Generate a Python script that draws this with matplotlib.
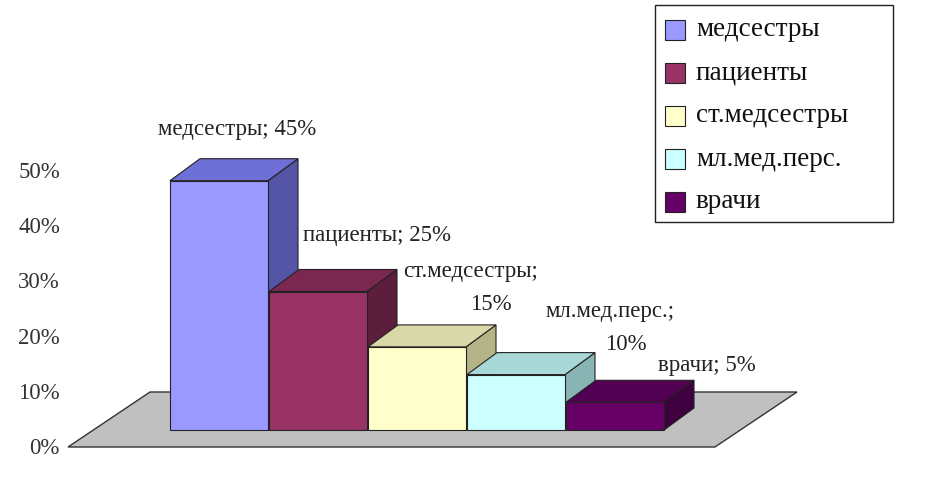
import matplotlib
matplotlib.use("Agg")
import matplotlib.pyplot as plt
from matplotlib.patches import Polygon

categories = ["медсестры", "пациенты", "ст.медсестры", "мл.мед.перс.", "врачи"]
values = [45, 25, 15, 10, 5]
ticks = [0, 10, 20, 30, 40, 50]
point_labels = ["медсестры; 45%", "пациенты; 25%", "ст.медсестры;\n15%", "мл.мед.перс.;\n10%", "врачи; 5%"]
front = ["#9999FF", "#993366", "#FFFFCC", "#CCFFFF", "#660066"]
top = ["#6f6fd8", "#7a2850", "#d8d8a8", "#a8d8d8", "#520052"]
side = ["#5555a8", "#5c1e3c", "#b4b488", "#88b4b4", "#3e003e"]

plt.rcParams['font.family'] = ['Liberation Serif', 'DejaVu Serif']
W, H = 938, 492
fig = plt.figure(figsize=(W/100, H/100), dpi=100)
ax = fig.add_axes([0, 0, 1, 1])
S = 5.54  # px per percent
Y0 = 449  # pixel of 0%
ax.set_xlim(0, W)
ax.set_ylim((Y0 - H)/S, Y0/S)
ax.axis("off")
def py(p): return (Y0 - p)/S

# floor
ax.add_patch(Polygon([(68, py(447)), (150, py(392)), (797, py(392)), (715, py(447))],
                     closed=True, fc="#c0c0c0", ec="#333333", lw=1, zorder=1))
for t in ticks:
    ax.text(60, t, f"{t}%", ha="right", va="center", fontsize=16.5, color="#333333")

base = py(430)
dx, dz = 30, 22/S
bw = 98
x0 = 170
for i, v in enumerate(values):
    xl = x0 + i*bw + i*1.0
    xr = xl + bw
    yt = base + v
    z = 2 + i
    ax.add_patch(Polygon([(xr, base), (xr+dx, base+dz), (xr+dx, yt+dz), (xr, yt)],
                         fc=side[i], ec="#222222", lw=0.8, zorder=z))
    ax.add_patch(Polygon([(xl, yt), (xl+dx, yt+dz), (xr+dx, yt+dz), (xr, yt)],
                         fc=top[i], ec="#222222", lw=0.8, zorder=z))
    ax.bar(xl, v, width=bw, bottom=base, align="edge", color=front[i],
           edgecolor="#222222", lw=0.8, zorder=z)

lab_pos = [(158, 130), (303, 236), (403, 272), (546, 311), (658, 366)]
second = {2: 470, 3: 605}
for i, ((x, y), s) in enumerate(zip(lab_pos, point_labels)):
    parts = s.split("\n")
    ax.text(x, py(y), parts[0], ha="left", va="center", fontsize=16.5, color="#222222", zorder=10)
    if len(parts) > 1:
        ax.text(second[i], py(y+33), parts[1], ha="left", va="center", fontsize=16.5,
                color="#222222", zorder=10)

# legend
ax.add_patch(Polygon([(655, py(5)), (893, py(5)), (893, py(222)), (655, py(222))],
                     fc="white", ec="#222222", lw=1, zorder=10))
for i, c in enumerate(categories):
    yc = 30 + i*43
    ax.add_patch(Polygon([(665, py(yc-10)), (685, py(yc-10)), (685, py(yc+10)), (665, py(yc+10))],
                         fc=front[i], ec="#222222", lw=0.8, zorder=11))
    ax.text(696, py(yc), c, ha="left", va="center", fontsize=19.5, color="#111111", zorder=11)

fig.savefig("out.png", dpi=100)
